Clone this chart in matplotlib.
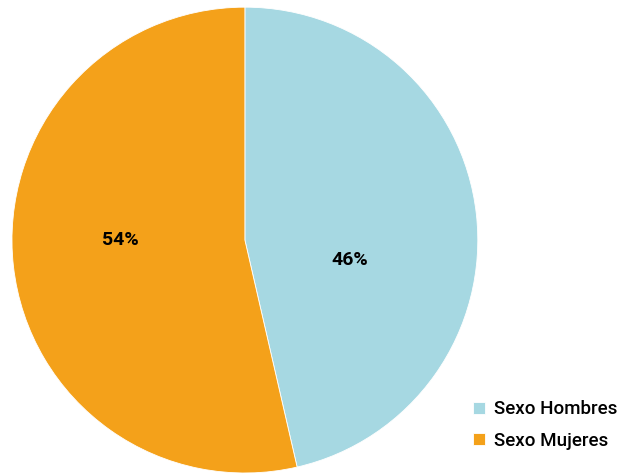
import matplotlib.pyplot as plt

labels = ['Sexo Hombres', 'Sexo Mujeres']
values = [46.4, 53.6]
colors = ['#A6D8E2', '#F4A11A']

plt.rcParams['font.family'] = ['Roboto', 'DejaVu Sans']

fig = plt.figure(figsize=(6.17, 4.74), dpi=100)
ax = fig.add_axes([0.0194, 0.002, 0.755, 0.983])

wedges, texts, autotexts = ax.pie(values, colors=colors, startangle=90, counterclock=False,
                                  autopct='%1.0f%%', pctdistance=0.5,
                                  wedgeprops=dict(edgecolor='white', linewidth=0.6),
                                  textprops=dict(fontsize=14, fontweight='bold', color='black'))
# label placement as in the original chart
autotexts[0].set_position((0.45, -0.086))
autotexts[1].set_position((-0.536, 0.0))
ax.set_xlim(-1.0, 1.0)
ax.set_ylim(-1.0, 1.0)
ax.set_aspect('equal')

leg = fig.legend(wedges, labels, loc='lower right', bbox_to_anchor=(1.028, 0.016), frameon=False,
                 handlelength=0.6, handleheight=0.6, handletextpad=0.5, labelspacing=0.7,
                 prop=dict(size=13.5, weight='medium'))

fig.savefig('out.png', dpi=100)
